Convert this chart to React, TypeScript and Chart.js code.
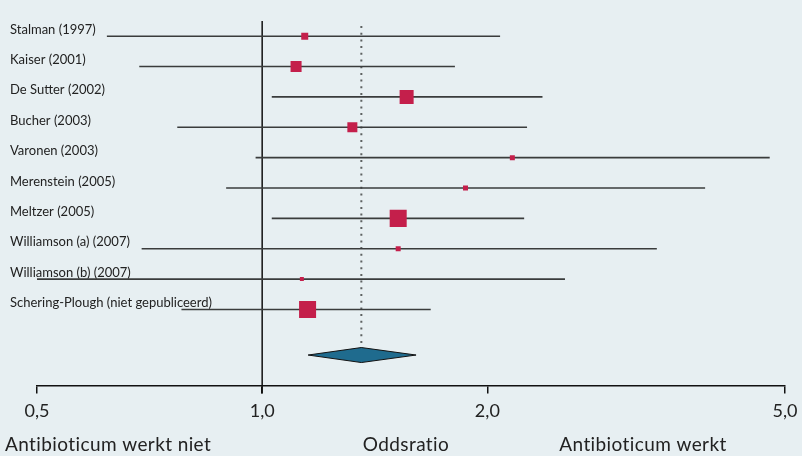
import React, { useEffect, useRef } from "react";
import { Chart, registerables } from "chart.js";

Chart.register(...registerables);

const studies = [
  "Stalman (1997)",
  "Kaiser (2001)",
  "De Sutter (2002)",
  "Bucher (2003)",
  "Varonen (2003)",
  "Merenstein (2005)",
  "Meltzer (2005)",
  "Williamson (a) (2007)",
  "Williamson (b) (2007)",
  "Schering-Plough (niet gepubliceerd)",
];
const oddsRatios = [1.14, 1.11, 1.56, 1.32, 2.16, 1.87, 1.52, 1.52, 1.13, 1.15];
const lowerCI = [0.62, 0.685, 1.03, 0.77, 0.98, 0.895, 1.03, 0.69, 0.5, 0.78];
const upperCI = [2.08, 1.81, 2.37, 2.26, 4.77, 3.91, 2.24, 3.37, 2.54, 1.68];
const weights = [4.3, 10.7, 17.3, 8.8, 2.2, 2.2, 25.5, 2.2, 1.4, 25.5];
const pooledOR = 1.357;
const pooledLower = 1.152;
const pooledUpper = 1.606;
const xTicks = [0.5, 1, 2, 5];
const leftLabel = "Antibioticum werkt niet";
const midLabel = "Oddsratio";
const rightLabel = "Antibioticum werkt";

const FONT = "Lato, 'Open Sans', sans-serif";
const BG = "#e7eff2";
const SQUARE = "#c41f4b";
const DIAMOND = "#1f6b8e";
const LINE = "#3a3c3c";

export default function App() {
  const ref = useRef<HTMLCanvasElement | null>(null);
  useEffect(() => {
    if (!ref.current) return;
    const pooledY = studies.length + 0.5;

    const overlay = {
      id: "forestOverlay",
      beforeDatasetsDraw(chart: any) {
        const { ctx, scales, chartArea } = chart;
        const x = scales.x;
        const y = scales.y;
        ctx.save();
        // row labels
        ctx.fillStyle = "#222";
        ctx.font = `13px ${FONT}`;
        ctx.textAlign = "left";
        ctx.textBaseline = "alphabetic";
        studies.forEach((s, i) => {
          ctx.fillText(s, 10, y.getPixelForValue(i) - 2.5);
        });
        // line of no effect
        const x1 = x.getPixelForValue(1);
        ctx.strokeStyle = "#111";
        ctx.lineWidth = 1.5;
        ctx.beginPath();
        ctx.moveTo(x1, chartArea.top);
        ctx.lineTo(x1, chartArea.bottom + 8);
        ctx.stroke();
        // pooled dotted line
        const xp = x.getPixelForValue(pooledOR);
        ctx.strokeStyle = "#5e6262";
        ctx.lineWidth = 2;
        ctx.setLineDash([2, 4.7]);
        ctx.beginPath();
        ctx.moveTo(xp, chartArea.top + 5);
        ctx.lineTo(xp, y.getPixelForValue(pooledY) - 7);
        ctx.stroke();
        ctx.setLineDash([]);
        ctx.restore();
      },
      afterDatasetsDraw(chart: any) {
        const { ctx, scales } = chart;
        const x = scales.x;
        const y = scales.y;
        const yc = y.getPixelForValue(pooledY);
        const h = 7.5;
        ctx.save();
        ctx.beginPath();
        ctx.moveTo(x.getPixelForValue(pooledLower), yc);
        ctx.lineTo(x.getPixelForValue(pooledOR), yc - h);
        ctx.lineTo(x.getPixelForValue(pooledUpper), yc);
        ctx.lineTo(x.getPixelForValue(pooledOR), yc + h);
        ctx.closePath();
        ctx.fillStyle = DIAMOND;
        ctx.fill();
        ctx.strokeStyle = "#111";
        ctx.lineWidth = 1;
        ctx.stroke();
        ctx.restore();
      },
      afterDraw(chart: any) {
        const { ctx } = chart;
        ctx.save();
        ctx.fillStyle = "#222";
        ctx.font = `19px ${FONT}`;
        (ctx as any).letterSpacing = "0.4px";
        ctx.textBaseline = "alphabetic";
        ctx.textAlign = "left";
        ctx.fillText(leftLabel, 5, 451);
        ctx.textAlign = "center";
        ctx.fillText(midLabel, 406, 451);
        ctx.fillText(rightLabel, 643, 451);
        ctx.restore();
      },
    };

    const ciDatasets = studies.map((s, i) => ({
      type: "line" as const,
      label: s,
      data: [
        { x: lowerCI[i], y: i },
        { x: upperCI[i], y: i },
      ],
      borderColor: LINE,
      borderWidth: 1.6,
      pointRadius: 0,
      fill: false,
      order: 2,
    }));

    const chart = new Chart(ref.current, {
      type: "scatter",
      data: {
        datasets: [
          ...ciDatasets,
          {
            type: "scatter",
            label: "OR",
            data: oddsRatios.map((v, i) => ({ x: v, y: i })),
            pointStyle: "rect",
            pointRadius: weights.map((w) => (33.7 * Math.sqrt(w / 100)) / 2 / Math.SQRT1_2),
            backgroundColor: SQUARE,
            borderWidth: 0,
            order: 1,
          } as any,
        ],
      },
      options: {
        animation: false,
        responsive: false,
        events: [],
        layout: { padding: { left: 37, right: 17, top: 21, bottom: 27 } },
        plugins: { legend: { display: false }, tooltip: { enabled: false } },
        scales: {
          x: {
            type: "logarithmic",
            min: 0.5,
            max: 5,
            afterBuildTicks: (axis: any) => {
              axis.ticks = xTicks.map((v) => ({ value: v }));
            },
            afterFit: (axis: any) => {
              axis.paddingLeft = 0;
              axis.paddingRight = 0;
            },
            ticks: {
              autoSkip: false,
              maxRotation: 0,
              padding: 7,
              color: "#222",
              font: { family: FONT, size: 18 },
              callback: (v: any) => Number(v).toFixed(1).replace(".", ","),
            },
            grid: {
              display: true,
              drawOnChartArea: false,
              drawTicks: true,
              tickLength: 8,
              color: "#111",
              lineWidth: 1.5,
            },
            border: { display: true, color: "#111", width: 1.5 },
          },
          y: {
            type: "linear",
            display: false,
            min: -0.5,
            max: 11.5,
            reverse: true,
          },
        },
      },
      plugins: [overlay],
    } as any);
    return () => chart.destroy();
  }, []);

  return (
    <div style={{ position: "absolute", left: 0, top: 0, width: 802, height: 456, background: BG }}>
      <canvas ref={ref} width={802} height={456} style={{ display: "block" }} />
    </div>
  );
}
